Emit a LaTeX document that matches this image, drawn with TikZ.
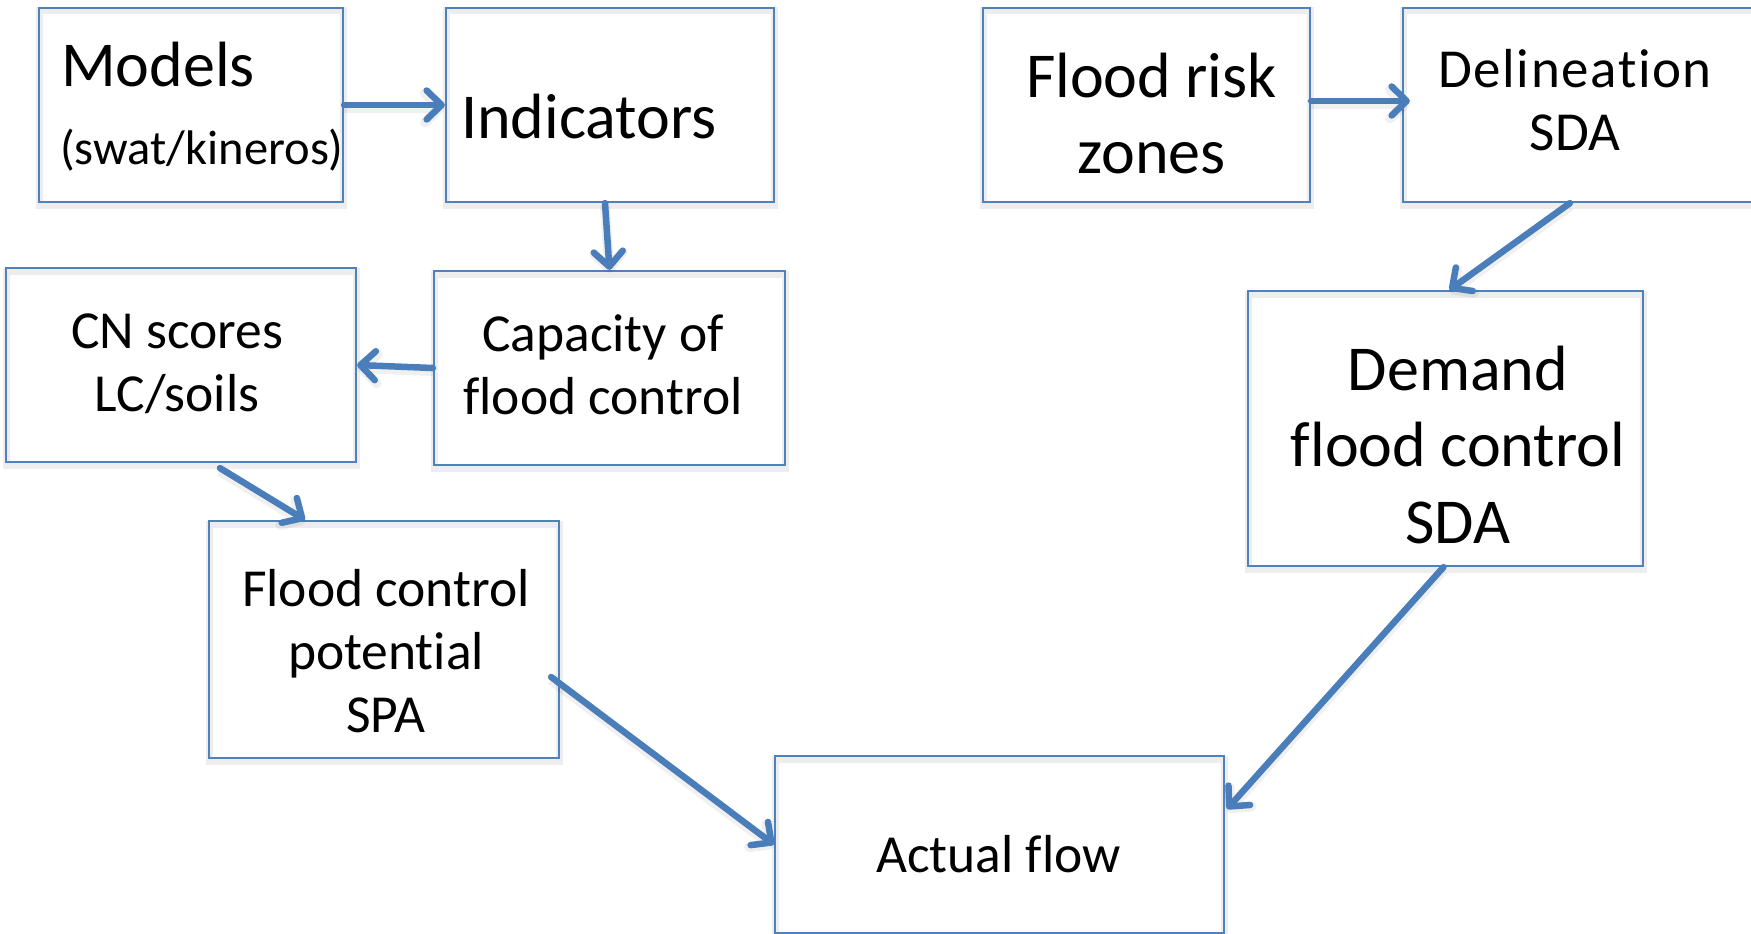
\documentclass[tikz,border=0pt]{standalone}
\usepackage{fontspec}
\setmainfont[Ligatures=NoCommon]{Carlito}
\usetikzlibrary{arrows.meta,calc}
\definecolor{boxblue}{HTML}{4F81BD}
\definecolor{arrblue}{HTML}{4A7EBB}
\newcommand\mlines[1]{\begin{tabular}[t]{@{}c@{}}#1\end{tabular}}
\begin{document}
\begin{tikzpicture}[x=1pt,y=-1pt,
  box/.style={draw=boxblue, line width=2.2pt, inner sep=0pt,
    preaction={draw=black, draw opacity=0.07, line width=7pt, transform canvas={yshift=-3pt}}},
  txt/.style={inner sep=0pt, anchor=base, text=black},
  big/.style={font=\fontsize{64}{76.5}\selectfont},
  mid/.style={font=\fontsize{53.5}{63}\selectfont},
  small/.style={font=\fontsize{48.5}{57}\selectfont},
  arr/.style={draw=arrblue, line width=6.5pt, line cap=round,
    -{Straight Barb[length=15pt,width=29pt,line cap=round,line join=round]},
    preaction={draw=black, draw opacity=0.06, line width=10pt, transform canvas={yshift=-3pt}}}
]
\useasboundingbox (0,0) rectangle (1751,934);
% boxes
\node[box, minimum width=304pt, minimum height=194pt] (models) at (191,105) {};
\node[box, minimum width=328pt, minimum height=194pt] (ind) at (610,105) {};
\node[box, minimum width=351pt, minimum height=194pt] (cap) at (609.5,368) {};
\node[box, minimum width=350pt, minimum height=194pt] (cn) at (181,365) {};
\node[box, minimum width=350pt, minimum height=237pt] (fcp) at (384,639.5) {};
\node[box, minimum width=449pt, minimum height=177pt] (act) at (999.5,844.5) {};
\node[box, minimum width=327pt, minimum height=194pt] (frz) at (1146.5,105) {};
\node[box, minimum width=362pt, minimum height=194pt] (del) at (1584,105) {};
\node[box, minimum width=395pt, minimum height=275pt] (dem) at (1445.5,428.5) {};
% texts
\node[txt, big, anchor=base west] (models-t1) at (61,87) {Models};
\node[txt, small, anchor=base west] (models-t2) at (60,164) {(swat/kineros)};
\node[txt, big, anchor=base west] (ind-t) at (461,138) {Indicators};
\node[txt, mid] (cap-t) at (603,351) {\mlines{Capacity of\\flood control}};
\node[txt, mid] (cn-t) at (177,348) {\mlines{CN scores\\LC/soils}};
\node[txt, mid] (fcp-t) at (386,606) {\mlines{Flood control\\potential\\SPA}};
\node[txt, mid] (act-t) at (998.5,872) {Actual flow};
\node[txt, big] (frz-t) at (1151.5,97) {\mlines{Flood risk\\zones}};
\node[txt, font=\fontsize{55}{63}\selectfont] (del-t) at (1575,88)
  {\mlines{{\addfontfeature{LetterSpace=3}Delineation}\\SDA}};
\node[txt, big] (dem-t) at (1458,390) {\mlines{Demand\\flood control\\SDA}};
% connectors
\draw[arr] (models.east) -- (ind.west);
\draw[arr] ($(ind.south)+(-5,0)$) -- (cap.north);
\draw[arr] (cap.west) -- (cn.east);
\draw[arr] ($(cn.south)+(39,5)$) -- ($(fcp.north west)+(97,0)$);
\draw[arr] ($(fcp.east)+(-9,37.5)$) -- (act.west);
\draw[arr] ($(frz.east)+(0,-4)$) -- ($(del.west)+(8,-4)$);
\draw[arr] ($(del.south west)+(168,0)$) -- ($(dem.north)+(4,0)$);
\draw[arr] ($(dem.south)+(-2,0)$) -- ($(act.north east)+(2,54)$);
\end{tikzpicture}
\end{document}
